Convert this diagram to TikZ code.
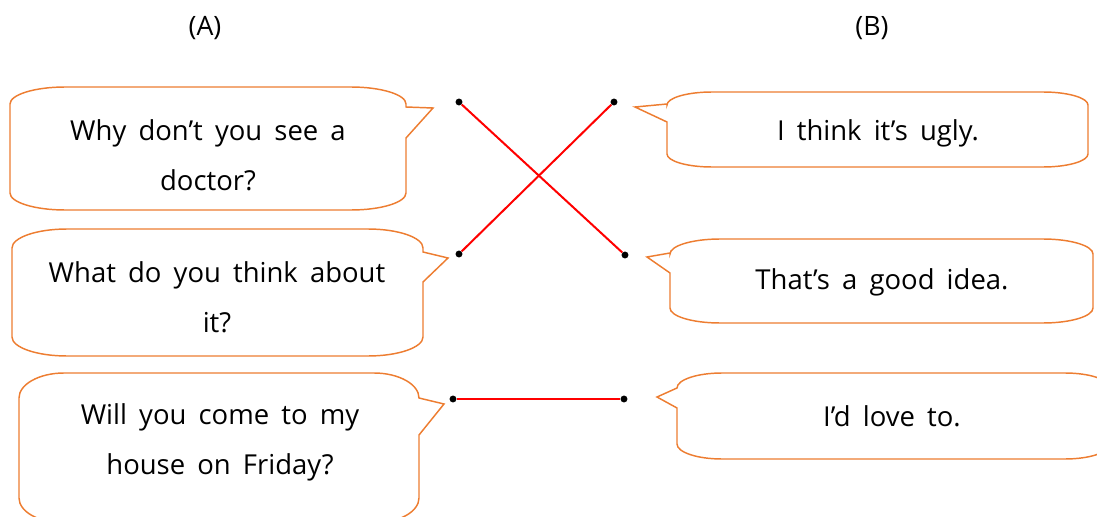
\documentclass[tikz,border=0pt]{standalone}
\usepackage{fontspec}
\setmainfont{Open Sans}[WordSpace=1.7]
\usetikzlibrary{positioning}

\definecolor{bubbleorange}{RGB}{237,125,49}
\tikzset{
  bubble/.style={draw=bubbleorange, line width=1.1pt},
  answer/.style={font=\fontsize{20.6}{37.5}\selectfont, align=center},
  header/.style={font=\fontsize{20}{24}\selectfont},
  dot/.style={circle, fill=black, inner sep=0pt, minimum size=5.2pt},
  link/.style={draw=red, line width=1.5pt}
}

% left, top, right, bottom, tail top, tail bottom, tip, rx, ry
\newcommand{\bubbleright}[9]{%
  \draw[bubble] ({#3},{#5}) -- #7 -- ({#3},{#6}) -- ({#3},{#4-#9})
    .. controls ({#3},{#4-0.45*#9}) and ({#3-0.45*#8},{#4}) .. ({#3-#8},{#4})
    -- ({#1+#8},{#4})
    .. controls ({#1+0.45*#8},{#4}) and ({#1},{#4-0.45*#9}) .. ({#1},{#4-#9})
    -- ({#1},{#2+#9})
    .. controls ({#1},{#2+0.45*#9}) and ({#1+0.45*#8},{#2}) .. ({#1+#8},{#2})
    -- ({#3-#8},{#2})
    .. controls ({#3-0.45*#8},{#2}) and ({#3},{#2+0.45*#9}) .. ({#3},{#2+#9})
    -- cycle;}
\newcommand{\bubbleleft}[9]{%
  \draw[bubble] ({#1},{#5}) -- #7 -- ({#1},{#6}) -- ({#1},{#4-#9})
    .. controls ({#1},{#4-0.45*#9}) and ({#1+0.45*#8},{#4}) .. ({#1+#8},{#4})
    -- ({#3-#8},{#4})
    .. controls ({#3-0.45*#8},{#4}) and ({#3},{#4-0.45*#9}) .. ({#3},{#4-#9})
    -- ({#3},{#2+#9})
    .. controls ({#3},{#2+0.45*#9}) and ({#3-0.45*#8},{#2}) .. ({#3-#8},{#2})
    -- ({#1+#8},{#2})
    .. controls ({#1+0.45*#8},{#2}) and ({#1},{#2+0.45*#9}) .. ({#1},{#2+#9})
    -- cycle;}

\begin{document}
\begin{tikzpicture}[x=0.75pt,y=-0.75pt]
  \useasboundingbox (0,0) rectangle (1097,517);
  \clip (0,0) rectangle (1097,517);

  \node (hdrA) at (205,28) [header] {(A)};
  \node (hdrB) at (872,28) [header] {(B)};

  % questions
  \bubbleright{10}{87}{406}{210}{107}{138}{(433,108)}{55}{17}
  \bubbleright{12}{229}{423}{356}{252}{282}{(448,258)}{55}{19}
  \bubbleright{19}{373}{419}{523}{398}{435}{(444,404)}{45}{25}
  \node (qDoctor) at (208,155) [answer] {Why don’t you see a\\doctor?};
  \node (qThink) at (217,297) [answer] {What do you think about\\it?};
  \node (qFriday) at (220,442) [answer] {Will you come to my\\house on Friday?};

  % answers
  \bubbleleft{667}{92}{1088}{167}{104}{122}{(635,107)}{45}{13}
  \bubbleleft{670}{239}{1093}{323}{253}{273}{(647,257)}{50}{15}
  \bubbleleft{677}{373}{1110}{459}{388}{408}{(657,397)}{45}{15}
  \node (aUgly) at (878,133) [answer] {I think it’s ugly.};
  \node (aIdea) at (882,282) [answer] {That’s a good idea.};
  \node (aLove) at (892,416) [answer] {I’d love to.};

  \node (dA1) at (459,102) [dot] {};
  \node (dA2) at (459,254) [dot] {};
  \node (dA3) at (453,399) [dot] {};
  \node (dB1) at (614,102) [dot] {};
  \node (dB2) at (625,255) [dot] {};
  \node (dB3) at (624,399) [dot] {};

  \draw[link] (dA1) -- (dB2);
  \draw[link] (dA2) -- (dB1);
  \draw[link] (dA3) -- (dB3);
\end{tikzpicture}
\end{document}
